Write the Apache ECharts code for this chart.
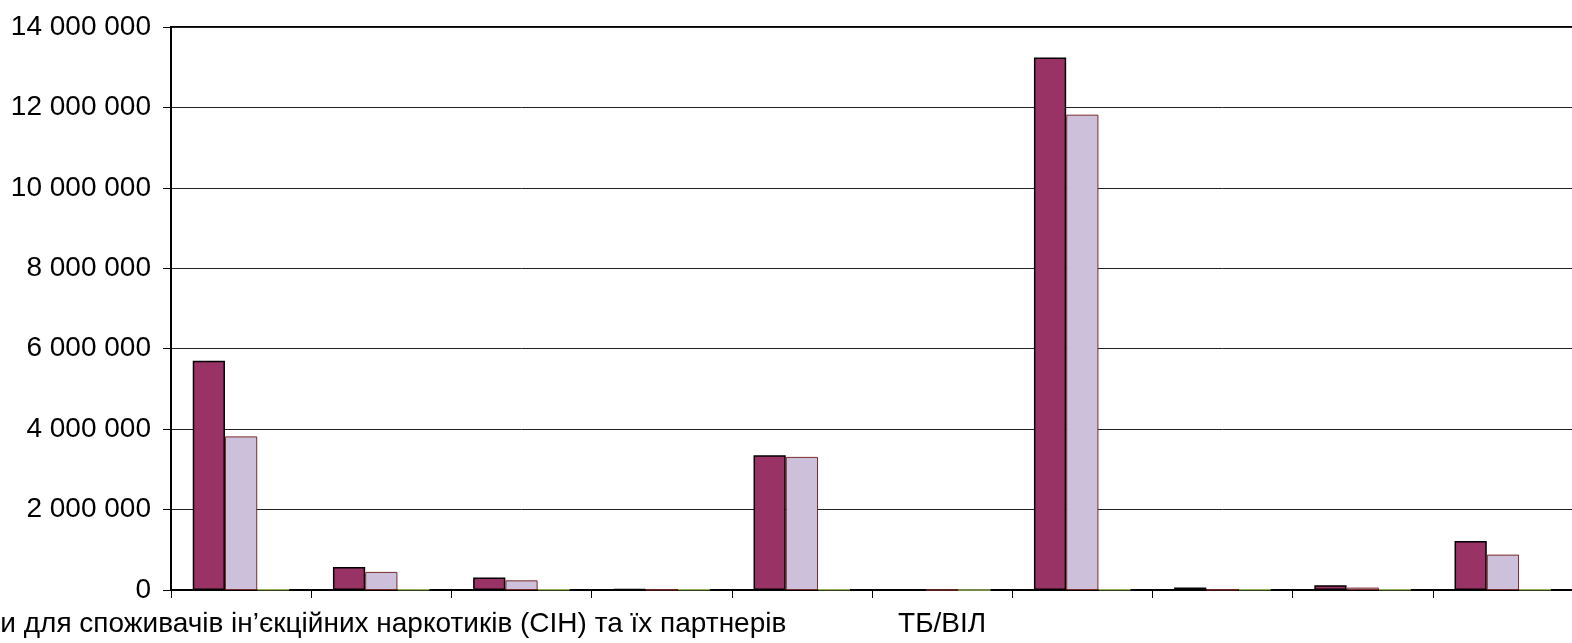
<!DOCTYPE html>
<html>
<head>
	<meta charset="utf-8">
	<script src="https://cdn.jsdelivr.net/npm/echarts@6/dist/echarts.min.js"></script>
	<style>
		html, body { margin:0; padding:0; background:#fff; }
		#chart { width:1572px; height:643px; }
	</style>
</head>
<body>
<div id="chart"></div>
<script>
	// категорії (підписи видно лише для 1-ї та 6-ї)
	var categories = ['Профілактичні програми для споживачів ін’єкційних наркотиків (СІН) та їх партнерів', '', '', '', '', 'ТБ/ВІЛ', '', '', '', ''];
	var series1 = [5700000, 570000, 310000, 20000, 3350000, 0, 13240000, 65000, 120000, 1220000];
	var series2 = [3820000, 450000, 240000, 10000, 3310000, 0, 11820000, 10000, 60000, 880000];
	var series3 = [15000, 15000, 15000, 15000, 15000, 0, 15000, 15000, 15000, 15000];
	var yTicks = [0, 2000000, 4000000, 6000000, 8000000, 10000000, 12000000, 14000000];

	function fmt(v){
		return String(v).replace(/\B(?=(\d{3})+(?!\d))/g, ' ');
	}

	var chart = echarts.init(document.getElementById('chart'));
	var option = {
		animation: false,
		backgroundColor: '#fff',
		textStyle: { fontFamily: 'Liberation Sans, Arial, sans-serif' },
		grid: {
			left: 171,
			top: 27,
			width: 1402,
			bottom: 53,
			show: true,
			borderColor: '#000',
			borderWidth: 2,
			containLabel: false,
			outerBoundsMode: 'none'
		},
		xAxis: {
			type: 'category',
			data: categories,
			axisLine: { lineStyle: { color: '#000', width: 2 } },
			axisTick: { show: true, interval: 0, length: 8, lineStyle: { color: '#000' } },
			axisLabel: {
				interval: 0,
				color: '#000',
				fontSize: 28,
				margin: 20,
				hideOverlap: false
			},
			splitLine: { show: false }
		},
		yAxis: {
			type: 'value',
			min: yTicks[0],
			max: yTicks[yTicks.length - 1],
			interval: yTicks[1] - yTicks[0],
			axisLine: { show: true, lineStyle: { color: '#000', width: 2 } },
			axisTick: { show: true, length: 8, lineStyle: { color: '#000' } },
			axisLabel: {
				color: '#000',
				fontSize: 28,
				margin: 20,
				formatter: fmt
			},
			splitLine: { show: true, lineStyle: { color: '#222', width: 1 } }
		},
		series: [
			{
				name: 'Ряд 1',
				type: 'bar',
				data: series1,
				barGap: '0%',
				barCategoryGap: '31%',
				itemStyle: { color: '#993366', borderColor: '#000', borderWidth: 1.5 }
			},
			{
				name: 'Ряд 2',
				type: 'bar',
				data: series2,
				barGap: '0%',
				barCategoryGap: '31%',
				itemStyle: { color: '#CCC0DA', borderColor: '#7a2a2a', borderWidth: 1 }
			},
			{
				name: 'Ряд 3',
				type: 'bar',
				data: series3,
				barGap: '0%',
				barCategoryGap: '31%',
				itemStyle: { color: '#9BBB59', borderColor: '#9BBB59', borderWidth: 1 }
			}
		]
	};
	chart.setOption(option);
</script>
</body>
</html>
